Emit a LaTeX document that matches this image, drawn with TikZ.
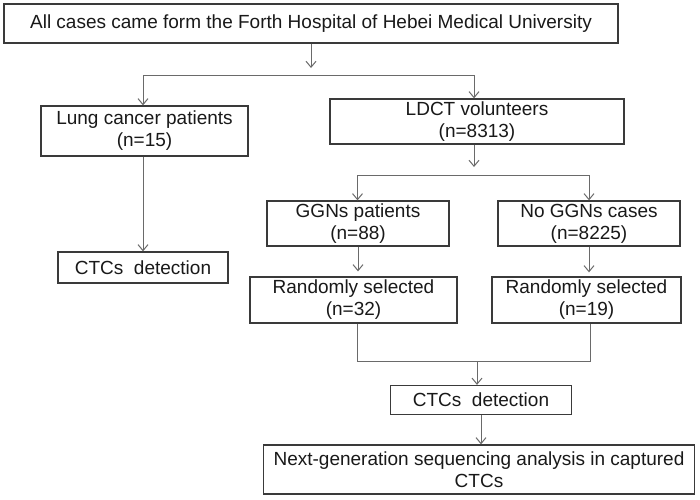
\documentclass[tikz,border=0pt]{standalone}
\usepackage{fontspec}
\setmainfont{Liberation Sans}
\usetikzlibrary{arrows,arrows.meta}
\definecolor{boxgray}{HTML}{3A3A3A}
\definecolor{linegray}{HTML}{6A6A6A}
\tikzset{
  box/.style={draw=boxgray, line width=1.3pt, fill=white, align=center, inner sep=0pt,
    text=black!90, font=\fontsize{19}{22}\selectfont},
  flow/.style={draw=linegray, line width=1pt, ->},
  bar/.style={draw=linegray, line width=1pt}
}
\begin{document}
\begin{tikzpicture}[x=1pt, y=-1pt, >={Straight Barb[length=6pt,width=10pt]}]
\useasboundingbox[fill=white] (0,0) rectangle (700,499);
% boxes
\node (top) at (311,23.5) [box, minimum width=614pt, minimum height=39pt] {All cases came form the Forth Hospital of Hebei Medical University};
\node (lung) at (144.5,131) [box, minimum width=207pt, minimum height=50pt] {Lung cancer patients\\(n=15)};
\node (ldct) at (477,121.5) [box, minimum width=294pt, minimum height=45pt] {LDCT volunteers\\(n=8313)};
\node (ctcA) at (143,267.5) [box, minimum width=170pt, minimum height=31pt] {CTCs\ \ detection};
\node (ggn) at (358,223.5) [box, minimum width=182pt, minimum height=45pt] {GGNs patients\\(n=88)};
\node (noggn) at (589,223.5) [box, minimum width=182pt, minimum height=45pt] {No GGNs cases\\(n=8225)};
\node (randA) at (353.5,300) [box, minimum width=207pt, minimum height=46pt] {Randomly selected\\(n=32)};
\node (randB) at (586.5,300) [box, minimum width=189pt, minimum height=46pt] {Randomly selected\\(n=19)};
\node (ctcB) at (481,400) [box, minimum width=181pt, minimum height=29pt] {CTCs\ \ detection};
\node (ngs) at (479,469.5) [box, minimum width=431pt, minimum height=49pt] {Next-generation sequencing analysis in captured\\CTCs};
% split points
\coordinate (hubA) at (311,68);
\coordinate (barAL) at (143,75);
\coordinate (barAR) at (474,75);
\coordinate (hubB) at (474,167);
\coordinate (barBL) at (357.5,175);
\coordinate (barBR) at (589,175);
\coordinate (joinL) at (357.5,361);
\coordinate (joinR) at (590,361);
\coordinate (joinM) at (477,361);
% connectors
\draw[flow] (top.south) -- (hubA);
\draw[bar] (barAL) -- (barAR);
\draw[flow] (barAL) -- (barAL |- lung.north);
\draw[flow] (barAR) -- (barAR |- ldct.north);
\draw[flow] (lung.south -| ctcA.north) -- (ctcA.north);
\draw[flow] (barAR |- ldct.south) -- (hubB);
\draw[bar] (barBL) -- (barBR);
\draw[flow] (barBL) -- (barBL |- ggn.north);
\draw[flow] (barBR) -- (barBR |- noggn.north);
\draw[flow, shorten >=5pt] (ggn.south) -- (ggn.south |- randA.north);
\draw[flow, shorten >=4pt] (noggn.south) -- (noggn.south |- randB.north);
\draw[bar] (joinL |- randA.south) -- (joinL) -- (joinR) -- (joinR |- randB.south);
\draw[flow] (joinM) -- (joinM |- ctcB.north);
\draw[flow] (ctcB.south) -- (ctcB.south |- ngs.north);
\end{tikzpicture}
\end{document}
